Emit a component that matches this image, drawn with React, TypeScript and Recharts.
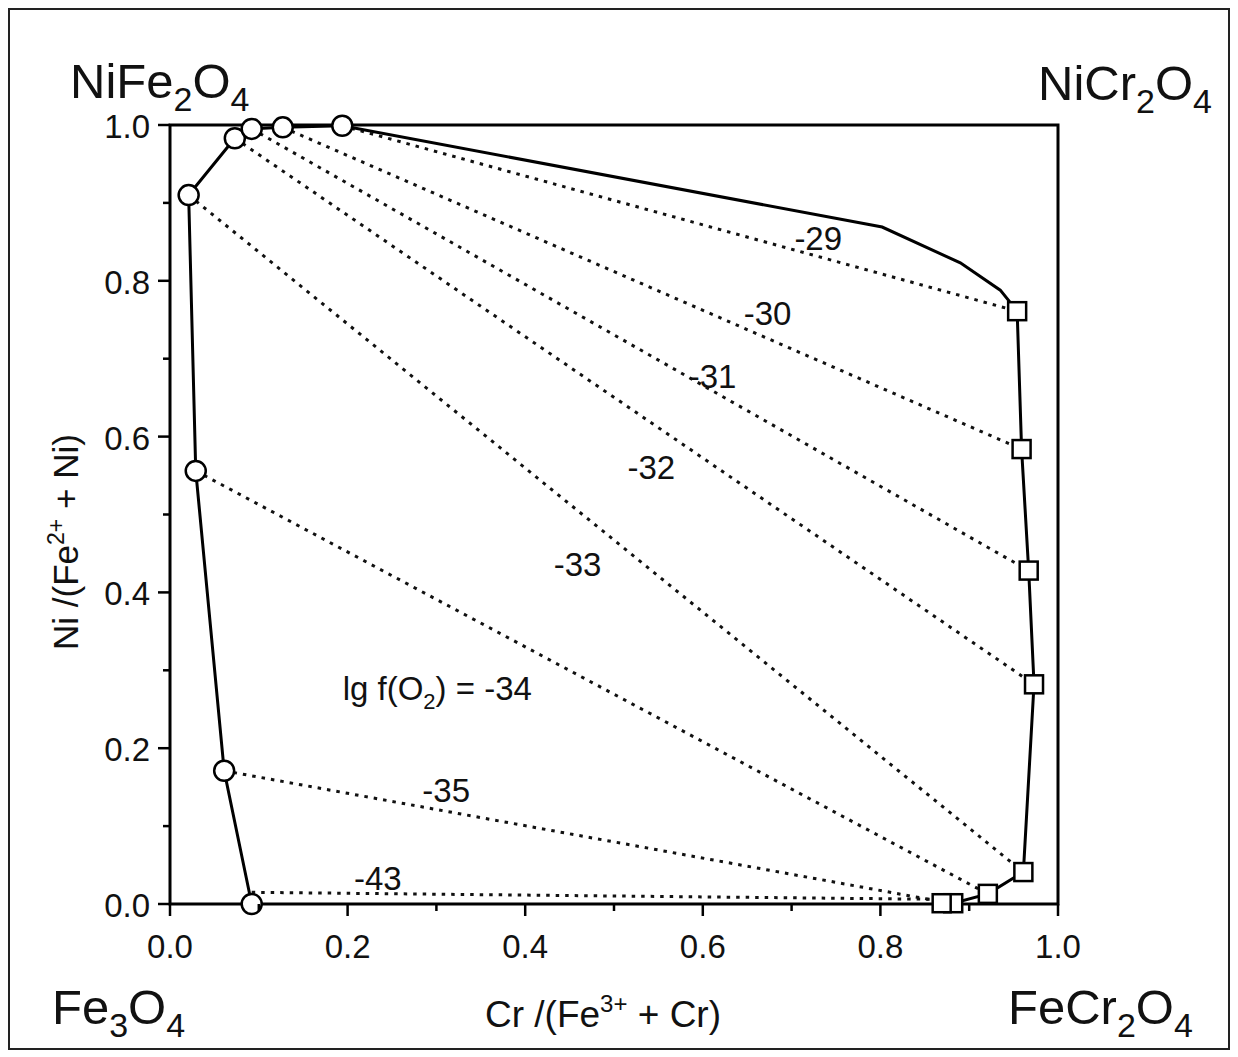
import React from 'react';
import { ScatterChart, Scatter, XAxis, YAxis, ReferenceArea } from 'recharts';

// Ni-ferrite side solid solution (circles), from bottom to top
const circleX = [0.092, 0.061, 0.029, 0.021, 0.073, 0.092, 0.127, 0.194];
const circleY = [0.0, 0.171, 0.556, 0.91, 0.983, 0.995, 0.997, 0.999];
// upper boundary curve between the two fields
const curveX = [0.802, 0.89, 0.935];
const curveY = [0.869, 0.823, 0.788];
// chromite side solid solution (squares), from top to bottom
const squareX = [0.954, 0.959, 0.967, 0.973, 0.961, 0.921, 0.882, 0.869];
const squareY = [0.761, 0.584, 0.428, 0.282, 0.041, 0.013, 0.001, 0.001];

// tie lines (lg fO2 levels)
const tieLabels = ['-29', '-30', '-31', '-32', '-33', 'lg f(O2) = -34', '-35', '-43'];
const tieStartX = [0.194, 0.127, 0.092, 0.073, 0.021, 0.029, 0.061, 0.092];
const tieStartY = [0.999, 0.997, 0.995, 0.983, 0.91, 0.556, 0.171, 0.015];
const tieEndX = [0.954, 0.959, 0.967, 0.973, 0.961, 0.921, 0.869, 0.869];
const tieEndY = [0.761, 0.584, 0.428, 0.282, 0.041, 0.013, 0.003, 0.006];
const labelX = [0.73, 0.673, 0.611, 0.542, 0.459, 0.301, 0.311, 0.234];
const labelY = [0.855, 0.759, 0.678, 0.561, 0.437, 0.277, 0.146, 0.033];

const axisTicks = [0, 0.1, 0.2, 0.3, 0.4, 0.5, 0.6, 0.7, 0.8, 0.9, 1.0];
const majorTicks = [0, 0.2, 0.4, 0.6, 0.8, 1.0];

const FONT = '"Liberation Sans", Arial, Helvetica, sans-serif';

const circles = circleX.map((x, i) => ({ x, y: circleY[i] }));
const squares = squareX.map((x, i) => ({ x, y: squareY[i] }));
const boundary = [
  ...circles,
  ...curveX.map((x, i) => ({ x, y: curveY[i] })),
  ...squares,
];
const ties = tieLabels.map((_, i) => [
  { x: tieStartX[i], y: tieStartY[i] },
  { x: tieEndX[i], y: tieEndY[i] },
]);
const labels = tieLabels.map((label, i) => ({ x: labelX[i], y: labelY[i], label }));

const isMajor = (v: number) => majorTicks.some((m) => Math.abs(m - v) < 1e-6);

const XTick = (props: any) => {
  const { x, y, payload } = props;
  const major = isMajor(payload.value);
  return (
    <g>
      <line x1={x} x2={x} y1={y} y2={y + (major ? 12 : 7)} stroke="#000" strokeWidth={2.5} />
      {major && (
        <text x={x} y={y + 54} textAnchor="middle" fontSize={33} fontFamily={FONT} fill="#111">
          {payload.value.toFixed(1)}
        </text>
      )}
    </g>
  );
};

const YTick = (props: any) => {
  const { x, y, payload } = props;
  const major = isMajor(payload.value);
  return (
    <g>
      <line x1={x} x2={x - (major ? 12 : 7)} y1={y} y2={y} stroke="#000" strokeWidth={2.5} />
      {major && (
        <text x={x - 20} y={y + 13} textAnchor="end" fontSize={33} fontFamily={FONT} fill="#111">
          {payload.value.toFixed(1)}
        </text>
      )}
    </g>
  );
};

const CircleShape = (p: any) => (
  <circle cx={p.cx} cy={p.cy} r={10} fill="#fff" stroke="#000" strokeWidth={2.5} />
);
const SquareShape = (p: any) => (
  <rect x={p.cx - 9} y={p.cy - 9} width={18} height={18} fill="#fff" stroke="#000" strokeWidth={2.5} />
);
const NoShape = () => <g />;

const LabelShape = (p: any) => {
  const text: string = p.payload.label;
  if (text.includes('(O2)')) {
    const [a, b] = text.split('(O2)');
    return (
      <text x={p.cx} y={p.cy + 12} textAnchor="middle" fontSize={33} fontFamily={FONT} fill="#111">
        {a + '(O'}
        <tspan dy={9} fontSize={22}>2</tspan>
        <tspan dy={-9}>{')' + b}</tspan>
      </text>
    );
  }
  return (
    <text x={p.cx} y={p.cy + 12} textAnchor="middle" fontSize={33} fontFamily={FONT} fill="#111">
      {text}
    </text>
  );
};

const Formula = ({ x, y, parts }: { x: number; y: number; parts: [string, boolean][] }) => (
  <text x={x} y={y} fontSize={49} fontFamily={FONT} fill="#111">
    {parts.map(([s, sub], i) => {
      const prevSub = i > 0 && parts[i - 1][1];
      const dy = sub ? 13 : prevSub ? -13 : 0;
      return (
        <tspan key={i} dy={dy} fontSize={sub ? 34 : 49}>
          {s}
        </tspan>
      );
    })}
  </text>
);

export default function App() {
  return (
    <div
      style={{
        position: 'relative',
        width: 1222,
        height: 1042,
        outline: '2px solid #222',
        outlineOffset: '-2px',
        background: '#fff',
      }}
    >
      <ScatterChart width={1222} height={1042} margin={{ top: 117, right: 172, bottom: 86, left: 62 }}>
        <XAxis
          type="number"
          dataKey="x"
          domain={[0, 1]}
          ticks={axisTicks}
          interval={0}
          height={60}
          axisLine={false}
          tickLine={false}
          tickSize={0}
          tickMargin={0}
          tick={<XTick />}
        />
        <YAxis
          type="number"
          dataKey="y"
          domain={[0, 1]}
          ticks={axisTicks}
          interval={0}
          width={100}
          axisLine={false}
          tickLine={false}
          tickSize={0}
          tickMargin={0}
          tick={<YTick />}
        />
        <ReferenceArea x1={0} x2={1} y1={0} y2={1} fill="none" stroke="#000" strokeWidth={3} ifOverflow="visible" />
        {ties.map((d, i) => (
          <Scatter
            key={'tie' + i}
            data={d}
            fill="#000"
            line={{ stroke: '#111', strokeWidth: 3, strokeDasharray: '3.5 6' }}
            lineType="joint"
            shape={NoShape}
            isAnimationActive={false}
          />
        ))}
        <Scatter
          data={boundary}
          fill="#000"
          line={{ stroke: '#000', strokeWidth: 3 }}
          lineType="joint"
          shape={NoShape}
          isAnimationActive={false}
        />
        <Scatter data={circles} fill="#000" shape={CircleShape} isAnimationActive={false} />
        <Scatter data={squares} fill="#000" shape={SquareShape} isAnimationActive={false} />
        <Scatter data={labels} fill="#000" shape={LabelShape} isAnimationActive={false} />
      </ScatterChart>
      <svg
        width={1222}
        height={1042}
        style={{ position: 'absolute', left: 0, top: 0, pointerEvents: 'none' }}
      >
        <Formula x={62} y={90} parts={[['NiFe', false], ['2', true], ['O', false], ['4', true]]} />
        <Formula x={1030} y={92} parts={[['NiCr', false], ['2', true], ['O', false], ['4', true]]} />
        <Formula x={44} y={1016} parts={[['Fe', false], ['3', true], ['O', false], ['4', true]]} />
        <Formula x={1000} y={1016} parts={[['FeCr', false], ['2', true], ['O', false], ['4', true]]} />
        <text x={595} y={1019} textAnchor="middle" fontSize={37} fontFamily={FONT} fill="#111">
          Cr /(Fe
          <tspan dy={-15} fontSize={24}>3+</tspan>
          <tspan dy={15}> + Cr)</tspan>
        </text>
        <text
          x={0}
          y={0}
          transform="translate(70, 534) rotate(-90)"
          textAnchor="middle"
          fontSize={35}
          fontFamily={FONT}
          fill="#111"
        >
          Ni /(Fe
          <tspan dy={-14} fontSize={23}>2+</tspan>
          <tspan dy={14}> + Ni)</tspan>
        </text>
      </svg>
    </div>
  );
}
